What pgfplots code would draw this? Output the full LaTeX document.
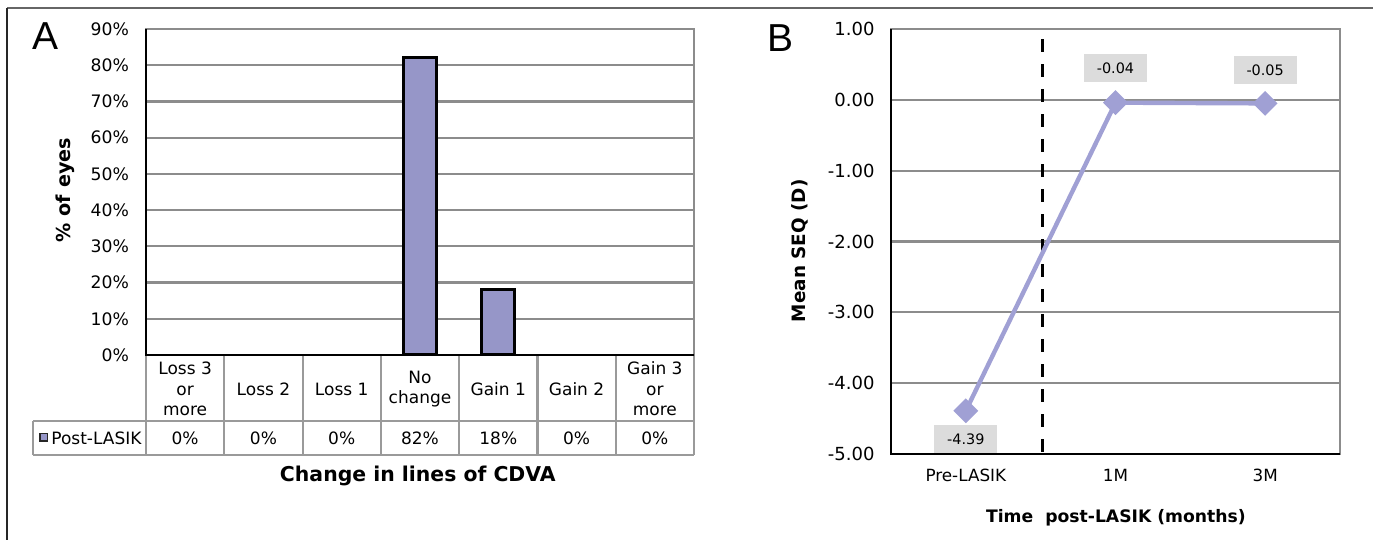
\documentclass[border=0pt]{standalone}
\usepackage{pgfplots}
\pgfplotsset{compat=1.18}
\usepackage{fontspec}
\setmainfont{DejaVu Sans}
\newfontfamily\arial{Liberation Sans}
\definecolor{barcol}{HTML}{9696C8}
\definecolor{linecol}{HTML}{A0A0D4}
\definecolor{gridcol}{HTML}{8C8C8C}
\definecolor{tabcol}{HTML}{9A9A9A}
\definecolor{boxcol}{HTML}{DCDCDC}
\begin{document}
\begin{tikzpicture}
\begin{scope}[x=0.5pt,y=0.5pt]
\path[use as bounding box] (0,0) rectangle (1373,540);
% outer frame
\draw[gray!80!black, line width=1pt] (7,532) -- (1373,532);
\draw[black!85, line width=1pt] (7,532) -- (7,0);
\end{scope}
% ---------------- Panel A ----------------
\begin{axis}[
  at={(73pt,92.5pt)}, anchor=south west, scale only axis,
  width=274pt, height=163pt,
  xmin=-0.5, xmax=6.5, ymin=0, ymax=90,
  ybar, bar width=16.5pt,
  ytick={0,10,...,90},
  yticklabel={\pgfmathprintnumber{\tick}\%},
  xtick={0,...,6},
  xticklabels={{Loss 3\\or\\more},{Loss 2},{Loss 1},{No\\change},{Gain 1},{Gain 2},{Gain 3\\or\\more}},
  xticklabel style={align=center, anchor=center, yshift=-17pt, font=\fontsize{8.5}{10.25}\selectfont},
  yticklabel style={font=\fontsize{8.6}{10}\selectfont, xshift=-5pt},
  major tick length=0pt,
  ymajorgrids, grid style={gridcol, line width=1.1pt},
  axis line style={gridcol, line width=1.1pt},
  /pgf/number format/assume math mode=true,
  clip=false,
  ylabel={\% of eyes},
  every axis y label/.style={at={(rel axis cs:-0.148,0.506)}, rotate=90, anchor=center, font=\bfseries\fontsize{9.6}{11}\selectfont},
  xlabel={Change in lines of CDVA},
  every axis x label/.style={at={(rel axis cs:0.496,-0.37)}, anchor=center, font=\bfseries\fontsize{10.2}{12}\selectfont},
]
\addplot[fill=barcol, draw=black, line width=1.5pt, unbounded coords=discard, y filter/.expression={y==0 ? nan : y}] coordinates {(0,0) (1,0) (2,0) (3,82) (4,18) (5,0) (6,0)};
\draw[black, line width=1.4pt] (rel axis cs:0,1) -- (rel axis cs:0,0) -- (rel axis cs:1,0);
\node[font=\fontsize{8.5}{10}\selectfont, yshift=-41.5pt] at (axis cs:0,0) {0\%};
\node[font=\fontsize{8.5}{10}\selectfont, yshift=-41.5pt] at (axis cs:1,0) {0\%};
\node[font=\fontsize{8.5}{10}\selectfont, yshift=-41.5pt] at (axis cs:2,0) {0\%};
\node[font=\fontsize{8.5}{10}\selectfont, yshift=-41.5pt] at (axis cs:3,0) {82\%};
\node[font=\fontsize{8.5}{10}\selectfont, yshift=-41.5pt] at (axis cs:4,0) {18\%};
\node[font=\fontsize{8.5}{10}\selectfont, yshift=-41.5pt] at (axis cs:5,0) {0\%};
\node[font=\fontsize{8.5}{10}\selectfont, yshift=-41.5pt] at (axis cs:6,0) {0\%};
\end{axis}
\begin{scope}[x=0.5pt,y=0.5pt]
% table grid
\begin{scope}[tabcol, line width=1.1pt]
\foreach \x in {146,224.3,302.6,380.9,459.1,537.4,615.7,694}{
  \draw (\x,184) -- (\x,85);
}
\draw (33,119) -- (694,119);
\draw (33,85) -- (694,85);
\draw (33,119) -- (33,85);
\end{scope}
\node[draw=black!85, fill=barcol, minimum size=3.6pt, inner sep=0pt, line width=0.6pt] at (43.5,102.5) {};
\node[anchor=west, inner sep=0pt, font=\fontsize{8.5}{10}\selectfont] at (51,102) {Post-LASIK};
\node[anchor=north west, inner sep=0pt, font=\arial\fontsize{19.5}{20}\selectfont] at (32,518) {A};
\node[anchor=north west, inner sep=0pt, font=\arial\fontsize{19.5}{20}\selectfont] at (767,516) {B};
\end{scope}
% ---------------- Panel B ----------------
\begin{axis}[
  at={(445.5pt,43pt)}, anchor=south west, scale only axis,
  width=224.5pt, height=212.5pt,
  xmin=-0.5, xmax=2.5, ymin=-5, ymax=1,
  ytick={-5,-4,...,1},
  xtick={0,1,2},
  xticklabels={Pre-LASIK,1M,3M},
  yticklabel style={font=\fontsize{9}{10}\selectfont, xshift=-4.7pt, /pgf/number format/.cd, fixed, fixed zerofill, precision=2},
  xticklabel style={anchor=center, yshift=-10.5pt, font=\fontsize{8.4}{10}\selectfont},
  major tick length=0pt,
  ymajorgrids, grid style={gridcol, line width=1.1pt},
  axis line style={gridcol, line width=1.1pt},
  /pgf/number format/assume math mode=true,
  clip=false,
  ylabel={Mean SEQ (D)},
  every axis y label/.style={at={(rel axis cs:-0.203,0.478)}, rotate=90, anchor=center, font=\bfseries\fontsize{9.2}{11}\selectfont},
  xlabel={Time\ \ post-LASIK (months)},
  every axis x label/.style={at={(rel axis cs:0.501,-0.149)}, anchor=center, font=\bfseries\fontsize{8.6}{10}\selectfont},
]
\addplot[black, line width=1.5pt, dash pattern=on 6.5pt off 6pt] coordinates {(0.51,-4.97) (0.51,0.97)};
\addplot[linecol, line width=2.2pt, mark=square*, mark size=3.3pt, mark options={rotate=45, fill=linecol, draw=linecol, solid}] coordinates {(0,-4.39) (1,-0.04) (2,-0.05)};
\draw[black, line width=1.4pt] (rel axis cs:0,1) -- (rel axis cs:0,0) -- (rel axis cs:1,0);
\node[fill=boxcol, minimum width=31.5pt, minimum height=14pt, inner sep=0pt, font=\fontsize{7.2}{8}\selectfont, yshift=-14pt] at (axis cs:0,-4.39) {-4.39};
\node[fill=boxcol, minimum width=31.5pt, minimum height=14pt, inner sep=0pt, font=\fontsize{7.2}{8}\selectfont, yshift=17.3pt] at (axis cs:1,-0.04) {-0.04};
\node[fill=boxcol, minimum width=31.5pt, minimum height=14pt, inner sep=0pt, font=\fontsize{7.2}{8}\selectfont, yshift=16.7pt] at (axis cs:2,-0.05) {-0.05};
\end{axis}
\end{tikzpicture}
\end{document}
